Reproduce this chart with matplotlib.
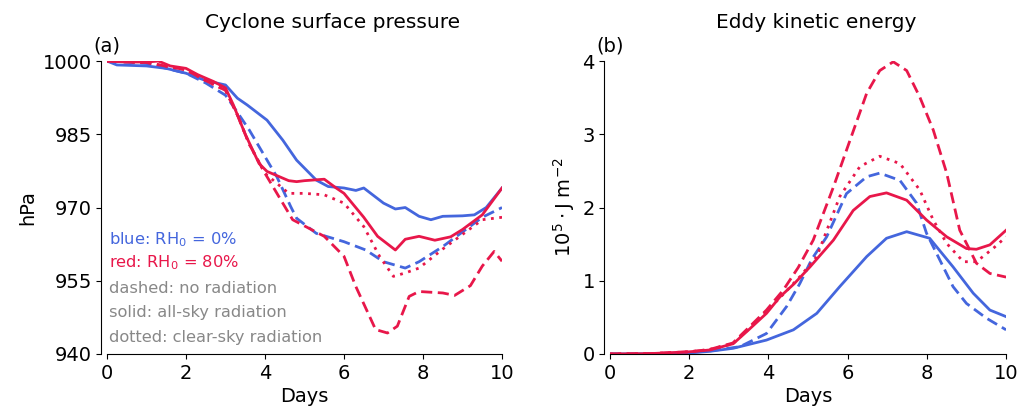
import matplotlib
matplotlib.use("Agg")
import matplotlib.pyplot as plt

# colours
blue = "#4466dd"
red = "#e8174a"
grey = "#888888"

# ---- (a) cyclone surface pressure, hPa ----
p_blue_solid_d = [0, 0.25, 1.0, 1.5, 2.0, 2.5, 3.0, 3.3, 3.55, 4.05, 4.45, 4.8, 5.3, 5.6, 6.0, 6.3, 6.5, 7.0, 7.3, 7.55, 7.9, 8.2, 8.5, 9.0, 9.3, 9.6, 10]
p_blue_solid = [1000, 999.2, 999.0, 998.5, 997.5, 996.0, 995.1, 992.4, 991.0, 987.9, 983.8, 979.7, 975.6, 974.3, 974.0, 973.5, 974.0, 970.9, 969.7, 970.0, 968.2, 967.5, 968.2, 968.3, 968.5, 970.0, 974.0]

p_red_solid_d = [0, 0.5, 1.0, 1.3, 1.6, 2.0, 2.3, 2.7, 3.0, 3.2, 3.5, 3.85, 4.05, 4.6, 4.8, 5.0, 5.5, 5.8, 6.0, 6.5, 6.85, 7.3, 7.55, 7.9, 8.3, 8.7, 9.0, 9.5, 10]
p_red_solid = [1000, 999.8, 999.8, 1000, 999.0, 998.5, 997.2, 995.8, 994.5, 991.0, 985.0, 979.0, 977.4, 975.5, 975.3, 975.5, 975.8, 974.0, 972.9, 968.0, 964.1, 961.3, 963.5, 964.1, 963.3, 964.0, 965.5, 968.5, 974.0]

p_blue_dash_d = [0, 1.0, 2.0, 2.5, 3.0, 3.2, 3.6, 3.95, 4.3, 4.65, 4.8, 5.3, 6.0, 6.55, 7.0, 7.55, 7.9, 8.5, 9.0, 9.5, 10]
p_blue_dash = [1000, 999.5, 997.5, 995.5, 993.0, 990.7, 985.9, 981.1, 976.3, 970.2, 967.8, 964.7, 963.0, 961.3, 958.9, 957.6, 958.9, 962.0, 965.0, 968.0, 970.0]

p_red_dash_d = [0, 1.0, 2.0, 2.5, 3.0, 3.3, 3.6, 4.0, 4.7, 5.5, 6.0, 6.3, 6.8, 7.1, 7.35, 7.65, 7.9, 8.5, 8.8, 9.2, 9.5, 9.8, 10]
p_red_dash = [1000, 999.7, 998.2, 996.0, 994.0, 989.0, 983.0, 977.0, 967.5, 964.1, 960.0, 953.8, 945.0, 944.3, 945.7, 951.8, 952.8, 952.5, 952.0, 954.0, 958.0, 961.0, 959.0]

p_red_dot_d = [0, 1.0, 2.0, 2.5, 3.0, 3.3, 3.6, 4.0, 4.6, 5.0, 5.5, 6.0, 6.5, 6.9, 7.25, 7.55, 7.9, 8.5, 9.0, 9.5, 10]
p_red_dot = [1000, 999.7, 998.2, 996.0, 994.0, 989.0, 983.0, 977.0, 972.9, 972.9, 972.6, 970.9, 966.1, 960.0, 955.9, 956.6, 957.6, 961.5, 964.5, 967.5, 968.0]

# ---- (b) eddy kinetic energy, 1e5 J m-2 ----
e_red_dash_d = [0, 1.0, 2.0, 2.5, 3.1, 3.5, 3.95, 4.37, 4.75, 5.13, 5.64, 6.06, 6.48, 6.81, 7.15, 7.49, 7.82, 8.16, 8.5, 8.83, 9.0, 9.25, 9.59, 10]
e_red_dash = [0, 0.005, 0.03, 0.06, 0.15, 0.36, 0.6, 0.87, 1.18, 1.555, 2.28, 2.92, 3.56, 3.87, 3.99, 3.87, 3.51, 3.06, 2.47, 1.69, 1.51, 1.24, 1.1, 1.05]

e_red_solid_d = [0, 1.0, 2.0, 2.52, 3.11, 3.5, 3.95, 4.29, 4.65, 5.05, 5.64, 6.14, 6.56, 6.98, 7.49, 7.99, 8.5, 9.0, 9.25, 9.59, 10]
e_red_solid = [0, 0.005, 0.03, 0.055, 0.14, 0.33, 0.555, 0.78, 0.96, 1.19, 1.555, 1.96, 2.15, 2.2, 2.1, 1.83, 1.6, 1.44, 1.43, 1.49, 1.69]

e_red_dot_d = [0, 1.0, 2.0, 2.5, 3.1, 3.5, 3.95, 4.4, 4.8, 5.22, 5.8, 6.31, 6.81, 7.32, 7.82, 8.16, 8.5, 8.92, 9.25, 9.67, 10]
e_red_dot = [0, 0.005, 0.03, 0.06, 0.14, 0.34, 0.58, 0.83, 1.06, 1.33, 2.15, 2.56, 2.7, 2.6, 2.24, 1.83, 1.51, 1.26, 1.26, 1.44, 1.6]

e_blue_dash_d = [0, 1.0, 2.0, 2.5, 3.28, 3.95, 4.46, 4.79, 5.1, 5.47, 5.97, 6.48, 6.81, 7.32, 7.74, 7.99, 8.33, 8.66, 9.0, 9.5, 10]
e_blue_dash = [0, 0.003, 0.02, 0.04, 0.1, 0.28, 0.65, 0.96, 1.3, 1.6, 2.19, 2.42, 2.47, 2.37, 2.06, 1.65, 1.28, 0.92, 0.69, 0.49, 0.33]

e_blue_solid_d = [0, 1.0, 2.0, 2.5, 3.11, 3.95, 4.63, 5.22, 5.8, 6.48, 6.98, 7.49, 8.07, 8.66, 9.17, 9.59, 10]
e_blue_solid = [0, 0.003, 0.015, 0.035, 0.078, 0.19, 0.33, 0.555, 0.92, 1.33, 1.58, 1.67, 1.58, 1.19, 0.83, 0.6, 0.51]

legend_lines = [("blue: RH$_0$ = 0%", blue), ("red: RH$_0$ = 80%", red),
                ("dashed: no radiation", grey), ("solid: all-sky radiation", grey),
                ("dotted: clear-sky radiation", grey)]

fig = plt.figure(figsize=(10.21, 4.12), dpi=100)
ax1 = fig.add_axes([0.1048, 0.1408, 0.3869, 0.711])
ax2 = fig.add_axes([0.5975, 0.1408, 0.3879, 0.711])

lw = 2
ax1.plot(p_blue_solid_d, p_blue_solid, color=blue, lw=lw)
ax1.plot(p_blue_dash_d, p_blue_dash, color=blue, lw=lw, ls=(0, (4, 2)))
ax1.plot(p_red_dash_d, p_red_dash, color=red, lw=lw, ls=(0, (4, 2)))
ax1.plot(p_red_dot_d, p_red_dot, color=red, lw=lw, ls=(0, (1, 2)))
ax1.plot(p_red_solid_d, p_red_solid, color=red, lw=lw)

ax2.plot(e_blue_solid_d, e_blue_solid, color=blue, lw=lw)
ax2.plot(e_blue_dash_d, e_blue_dash, color=blue, lw=lw, ls=(0, (4, 2)))
ax2.plot(e_red_dash_d, e_red_dash, color=red, lw=lw, ls=(0, (4, 2)))
ax2.plot(e_red_dot_d, e_red_dot, color=red, lw=lw, ls=(0, (1, 2)))
ax2.plot(e_red_solid_d, e_red_solid, color=red, lw=lw)

ax1.set_xlim(0, 10)
ax1.set_ylim(940, 1000)
ax1.set_yticks([940, 955, 970, 985, 1000])
ax2.set_xlim(0, 10)
ax2.set_ylim(0, 4)
ax2.set_yticks([0, 1, 2, 3, 4])

for ax in (ax1, ax2):
    ax.set_xticks([0, 2, 4, 6, 8, 10])
    ax.spines["top"].set_visible(False)
    ax.spines["right"].set_visible(False)
    ax.spines["left"].set_position(("outward", 4))
    ax.tick_params(labelsize=14)
    ax.set_xlabel("Days", fontsize=14, labelpad=3)

ax1.set_ylabel("hPa", fontsize=14)
ax2.set_ylabel(r"$10^5\cdot$J m$^{-2}$", fontsize=14, labelpad=4)
ax1.text(0.57, 1.113, "Cyclone surface pressure", transform=ax1.transAxes,
         fontsize=14.5, ha="center", va="baseline")
ax2.text(0.52, 1.113, "Eddy kinetic energy", transform=ax2.transAxes,
         fontsize=14.5, ha="center", va="baseline")
ax1.text(-0.035, 1.02, "(a)", transform=ax1.transAxes, fontsize=14, va="bottom")
ax2.text(-0.035, 1.02, "(b)", transform=ax2.transAxes, fontsize=14, va="bottom")

ys = [0.389, 0.311, 0.225, 0.143, 0.058]
for (txt, c), y in zip(legend_lines, ys):
    ax1.text(0.005, y, txt, color=c, fontsize=11.7, transform=ax1.transAxes, va="center")

fig.savefig("out.png", dpi=100)
